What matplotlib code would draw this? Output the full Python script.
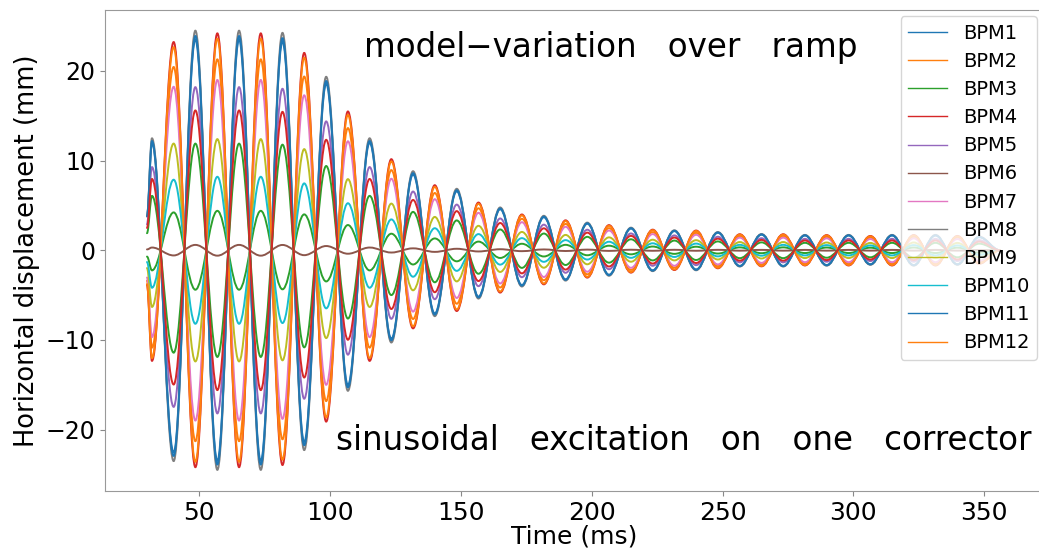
import matplotlib
matplotlib.use("Agg")
import matplotlib.pyplot as plt
from matplotlib.path import Path
from matplotlib.patches import PathPatch
from matplotlib.lines import Line2D

# time of each extremum of the oscillation (ms)
t_peaks = [31.9, 40.2, 48.5, 56.9, 65.2, 73.5, 81.8, 90.1, 98.5, 106.8,
           115.1, 123.4, 131.7, 140.0, 148.4, 156.7, 165.0, 173.3, 181.7, 190.0,
           198.3, 206.6, 215.0, 223.3, 231.6, 239.9, 248.2, 256.6, 264.9, 273.2,
           281.5, 289.8, 298.2, 306.5, 314.8, 323.1, 331.4, 339.8, 348.1]
# signed extremum level of the in-phase traces, relative to their maximum
peak_level = [0.51, -0.96, 1.00, -1.00, 1.00, -1.00, 0.99, -0.91, 0.79, -0.64,
              0.51, -0.42, 0.36, -0.30, 0.28, -0.22, 0.195, -0.165, 0.157, -0.138,
              0.126, -0.116, 0.103, -0.095, 0.091, -0.091, 0.083, -0.074, 0.074, -0.074,
              0.070, -0.070, 0.070, -0.066, 0.070, -0.070, 0.070, -0.066, 0.062]
t_first, first_level = 30.0, 0.16
t_last, last_level = 356.0, 0.0

bpm_names = ["BPM1", "BPM2", "BPM3", "BPM4", "BPM5", "BPM6", "BPM7",
             "BPM8", "BPM9", "BPM10", "BPM11", "BPM12", "BPM13", "BPM14"]
# peak displacement of each BPM (mm), negative = opposite phase
bpm_peak = [23.5, -21.3, -4.4, -24.2, 18.2, 0.6, -19.0,
            24.5, -12.4, -8.2, 23.9, -23.6, 11.9, 15.6]
n_legend = 12

colors = plt.rcParams["axes.prop_cycle"].by_key()["color"]

fig = plt.figure(figsize=(10.39, 5.5), dpi=100)
ax = fig.add_axes([105 / 1039, 59 / 550, (1043 - 105) / 1039, 481 / 550])

# bezier handle length that makes a half cycle look like a cosine
c = 0.3634
handles = []
for i, (name, amp) in enumerate(zip(bpm_names, bpm_peak)):
    col = colors[i % len(colors)]
    pts = [(t_first, amp * first_level)]
    pts += [(t, amp * lv) for t, lv in zip(t_peaks, peak_level)]
    pts.append((t_last, amp * last_level))
    verts = [pts[0]]
    codes = [Path.MOVETO]
    for (t0, y0), (t1, y1) in zip(pts[:-1], pts[1:]):
        dt = t1 - t0
        verts += [(t0 + c * dt, y0), (t1 - c * dt, y1), (t1, y1)]
        codes += [Path.CURVE4] * 3
    ax.add_patch(PathPatch(Path(verts, codes), fill=False, edgecolor=col,
                           lw=1.4, joinstyle="round", capstyle="round"))
    if i < n_legend:
        handles.append(Line2D([], [], color=col, lw=1.0, label=name))

ax.set_xlim(13.95, 372.5)
ax.set_ylim(-26.85, 26.8)
ax.set_xticks([50, 100, 150, 200, 250, 300, 350])
ax.set_yticks([-20, -10, 0, 10, 20])
ax.tick_params(axis="x", labelsize=18, color="#888888")
ax.tick_params(axis="y", labelsize=17, color="#888888")
for s in ax.spines.values():
    s.set_color("#999999")
ax.set_xlabel("Time (ms)", fontsize=18, labelpad=0)
ax.set_ylabel("Horizontal displacement (mm)", fontsize=18.5)

ax.text(0.539, 0.921, "model\u2212variation   over   ramp", transform=ax.transAxes,
        ha="center", va="center", fontsize=23.5)
ax.text(0.617, 0.106, "sinusoidal   excitation   on   one   corrector", transform=ax.transAxes,
        ha="center", va="center", fontsize=23.5)

ax.legend(handles=handles, loc="upper right", fontsize=14, labelspacing=0.47,
          bbox_to_anchor=(1037 / 1039, 1 - 16 / 550), bbox_transform=fig.transFigure,
          borderaxespad=0)

fig.savefig("out.png", dpi=100)
